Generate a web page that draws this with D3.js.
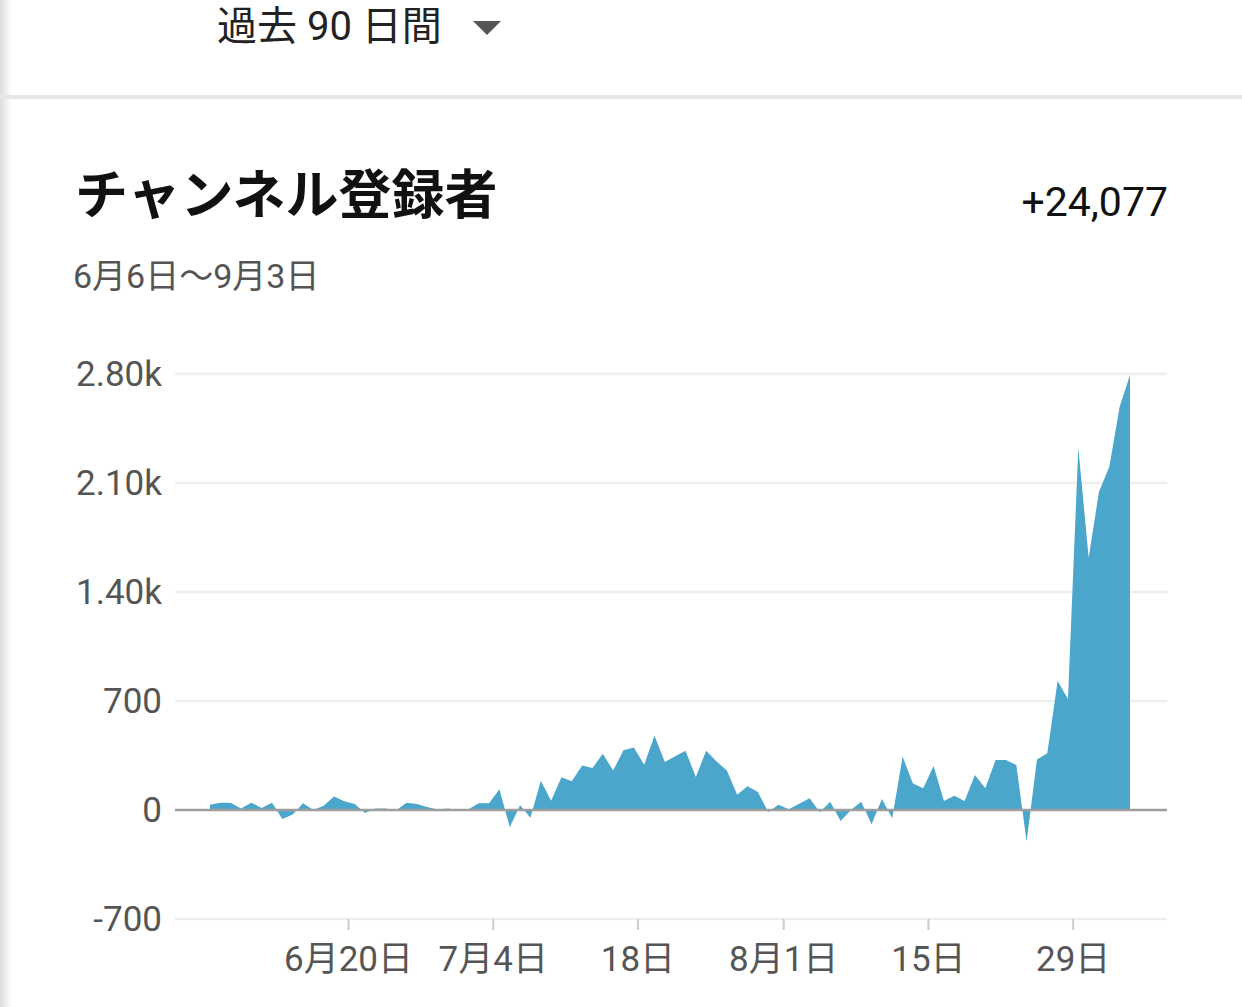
<!DOCTYPE html>
<html><head><meta charset="utf-8">
<script src="https://cdn.jsdelivr.net/npm/d3@7"></script>
<style>body{margin:0;background:#fff;}svg{display:block;}</style>
</head><body>
<svg id="c" width="1242" height="1007"></svg>
<script>
const values = [34,47,47,10,47,13,47,-58,-29,43,0,27,87,56,39,-19,10,10,-4,47,38,19,3,10,0,5,43,43,133,-111,
30,-50,188,60,210,184,285,270,362,253,383,402,291,477,308,345,381,212,381,312,253,98,152,116,-13,34,5,40,75,-15,
53,-70,0,53,-92,71,-53,343,170,139,282,58,92,58,225,139,321,321,289,-203,325,364,828,713,2326,1620,2044,2205,2590,2793];
const yTicks = [-700,0,700,1400,2100,2800];
const yTickLabels = ["-700","0","700","1.40k","2.10k","2.80k"];
const xTickIdx = [13.4,27.4,41.4,55.5,69.5,83.5];
const xTickLabels = ["6月20日","7月4日","18日","8月1日","15日","29日"];
const FONT = "Roboto, 'Noto Sans CJK JP', sans-serif";

const svg = d3.select("#c");
const g0 = svg.append("defs").append("linearGradient").attr("id","sh");
g0.append("stop").attr("offset","0").attr("stop-color","#ddd");
g0.append("stop").attr("offset","1").attr("stop-color","#fff");
svg.append("rect").attr("x",0).attr("y",0).attr("width",12).attr("height",1007).attr("fill","url(#sh)");

svg.append("text").attr("x",217).attr("y",40).attr("font-family",FONT).attr("font-size",40).attr("fill","#222").text("過去 90 日間");
svg.append("path").attr("d","M473,21 L501,21 L487,35 Z").attr("fill","#555");
svg.append("rect").attr("x",0).attr("y",95).attr("width",1242).attr("height",4).attr("fill","#e6e6e6");

svg.append("text").attr("x",75).attr("y",214).attr("font-family",FONT).attr("font-size",53).attr("font-weight","bold").attr("fill","#111").text("チャンネル登録者");
svg.append("text").attr("x",1168).attr("y",216).attr("text-anchor","end").attr("font-family",FONT).attr("font-size",41).attr("fill","#111").text("+24,077");
svg.append("text").attr("x",73).attr("y",288).attr("font-family",FONT).attr("font-size",34).attr("fill","#555").text("6月6日〜9月3日");

const x = d3.scaleLinear().domain([0,89]).range([210,1130]);
const y = d3.scaleLinear().domain([-700,2800]).range([919,374]);

const grid = svg.append("g");
yTicks.forEach((t,i)=>{
  if(t!==0) grid.append("line").attr("x1",175).attr("x2",1167).attr("y1",y(t)).attr("y2",y(t)).attr("stroke","#eee").attr("stroke-width",2.5);
  grid.append("text").attr("x",162).attr("y",y(t)+12).attr("text-anchor","end").attr("font-family",FONT).attr("font-size",35).attr("fill","#555").text(yTickLabels[i]);
});
xTickIdx.forEach((t,i)=>{
  grid.append("line").attr("x1",x(t)).attr("x2",x(t)).attr("y1",919).attr("y2",930).attr("stroke","#ccc").attr("stroke-width",2);
  grid.append("text").attr("x",x(t)).attr("y",971).attr("text-anchor","middle").attr("font-family",FONT).attr("font-size",35).attr("fill","#555").text(xTickLabels[i]);
});

const area = d3.area().x((d,i)=>x(i)).y0(y(0)).y1(d=>y(d));
svg.append("path").datum(values).attr("d",area).attr("fill","#4aa6cb");
svg.append("line").attr("x1",175).attr("x2",1167).attr("y1",y(0)).attr("y2",y(0)).attr("stroke","#9e9e9e").attr("stroke-width",2.5);
</script>
</body></html>
